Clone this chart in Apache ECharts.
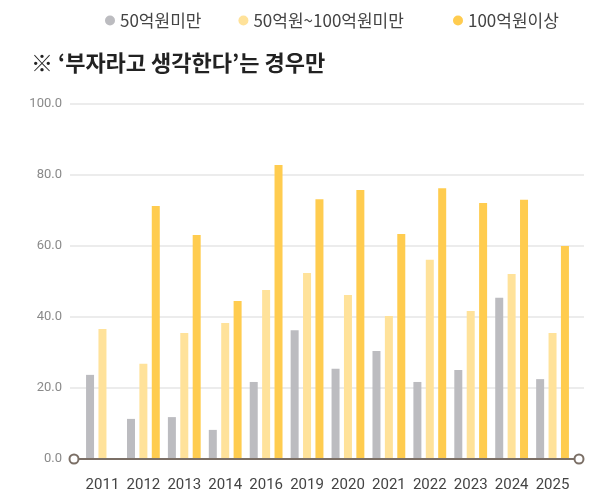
<!DOCTYPE html>
<html>
<head>
<meta charset="utf-8">
<script src="https://cdn.jsdelivr.net/npm/echarts@6/dist/echarts.min.js"></script>
<style>
  html, body { margin: 0; padding: 0; background: #fff; }
  #chart { width: 605px; height: 497px; }
</style>
</head>
<body>
<div id="chart"></div>
<script>
var years = ['2011', '2012', '2013', '2014', '2016', '2019', '2020', '2021', '2022', '2023', '2024', '2025'];
var under50 = [23.7, 11.3, 11.8, 8.2, 21.7, 36.3, 25.4, 30.4, 21.7, 25.1, 45.4, 22.5];
var from50to100 = [36.6, 26.8, 35.5, 38.3, 47.6, 52.4, 46.2, 40.3, 56.1, 41.7, 52.1, 35.5];
var over100 = [null, 71.3, 63.1, 44.5, 82.8, 73.2, 75.8, 63.4, 76.3, 72.1, 73.0, 60.0];
var seriesNames = ['50억원미만', '50억원~100억원미만', '100억원이상'];
var colors = ['#bcbcc0', '#ffe29a', '#ffcc4f'];

var chart = echarts.init(document.getElementById('chart'));

var gridTop = 104, gridBottom = 38;

var legendBase = {
  top: 12,
  padding: 0,
  icon: 'circle',
  itemWidth: 10,
  itemHeight: 10,
  itemGap: 37,
  textStyle: {
    fontFamily: 'Noto Sans CJK KR',
    fontSize: 17,
    color: '#444'
  }
};

var option = {
  animation: false,
  color: colors,
  title: {
    text: '※ ‘부자라고 생각한다’는 경우만',
    left: 31,
    top: 52,
    padding: 0,
    textStyle: {
      fontFamily: 'Noto Sans CJK KR',
      fontSize: 22,
      fontWeight: 'bold',
      color: '#222'
    }
  },
  legend: [
    Object.assign({}, legendBase, { data: seriesNames.slice(0, 2), left: 105 }),
    Object.assign({}, legendBase, { data: seriesNames.slice(2), left: 453 })
  ],
  grid: [
    // gridlines + y labels
    { left: 70, right: 21, top: gridTop, bottom: gridBottom },
    // bars + x labels
    { left: 82, right: 32, top: gridTop, bottom: gridBottom },
    // axis line with end circles
    { left: 74, right: 26, top: gridTop, bottom: gridBottom }
  ],
  xAxis: [
    { gridIndex: 0, type: 'category', data: years, show: false },
    {
      gridIndex: 1,
      type: 'category',
      data: years,
      axisLine: { show: false },
      axisTick: { show: false },
      axisLabel: {
        interval: 0,
        margin: 19,
        fontFamily: 'Roboto',
        fontSize: 15,
        color: '#444'
      }
    },
    {
      gridIndex: 2,
      type: 'category',
      data: years,
      z: 10,
      axisLine: {
        show: true,
        symbol: ['emptyCircle', 'emptyCircle'],
        symbolSize: [9, 9],
        lineStyle: { color: '#7b6f66', width: 2 }
      },
      axisTick: { show: false },
      axisLabel: { show: false }
    }
  ],
  yAxis: [
    {
      gridIndex: 0,
      type: 'value',
      min: 0,
      max: 100,
      interval: 20,
      axisLine: { show: false },
      axisTick: { show: false },
      axisLabel: {
        margin: 8,
        fontFamily: 'Roboto',
        fontSize: 13,
        color: '#8a8a8a',
        formatter: function (v) { return v.toFixed(1); }
      },
      splitLine: { lineStyle: { color: '#e6e6e6', width: 1.5 } }
    },
    { gridIndex: 1, type: 'value', min: 0, max: 100, show: false },
    { gridIndex: 2, type: 'value', min: 0, max: 100, show: false }
  ],
  series: [
    { name: seriesNames[0], type: 'bar', xAxisIndex: 1, yAxisIndex: 1, data: under50, barWidth: 8, barGap: '55%' },
    { name: seriesNames[1], type: 'bar', xAxisIndex: 1, yAxisIndex: 1, data: from50to100, barWidth: 8, barGap: '55%' },
    { name: seriesNames[2], type: 'bar', xAxisIndex: 1, yAxisIndex: 1, data: over100, barWidth: 8, barGap: '55%' }
  ]
};

chart.setOption(option);
</script>
</body>
</html>
